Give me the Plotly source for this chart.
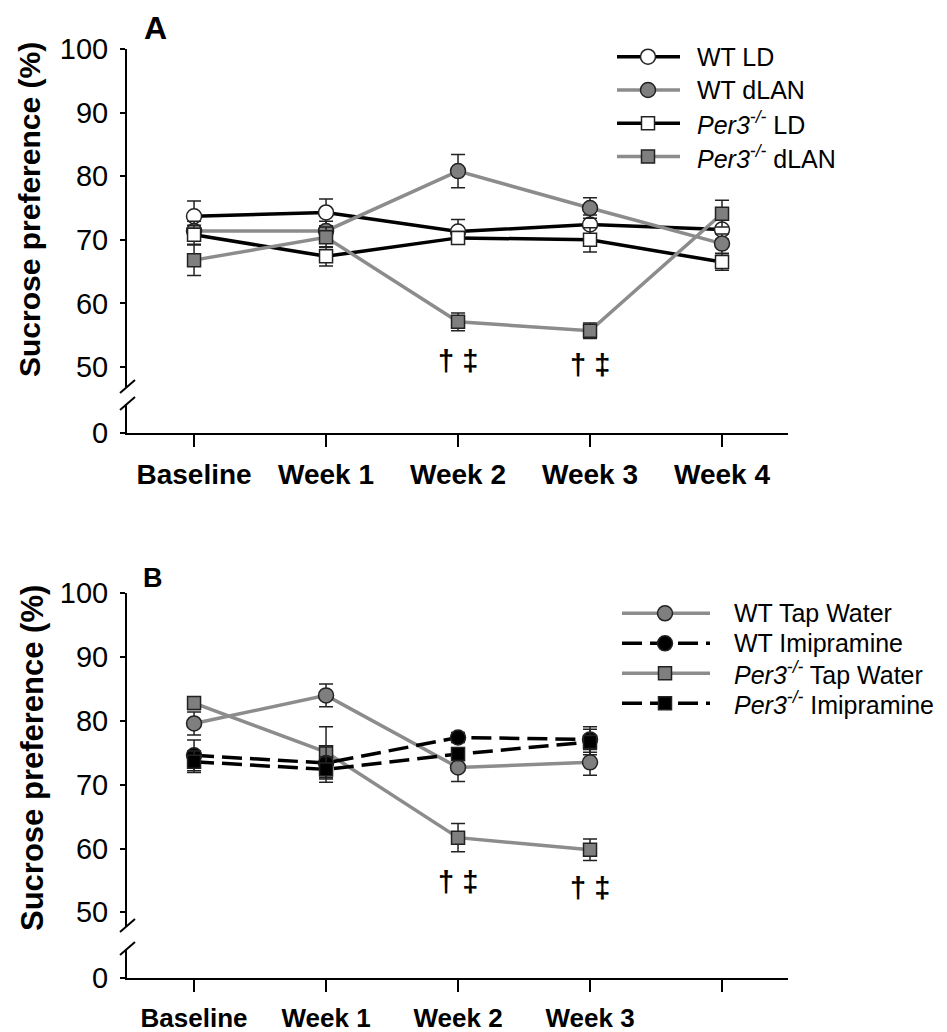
import plotly.graph_objects as go

# ---------------- data ----------------
weeks_A = ["Baseline", "Week 1", "Week 2", "Week 3", "Week 4"]
wt_ld = [73.7, 74.3, 71.3, 72.4, 71.6]
wt_ld_err = [2.4, 2.1, 1.9, 1.5, 1.5]
wt_dlan = [71.4, 71.4, 80.8, 75.0, 69.4]
wt_dlan_err = [1.5, 1.5, 2.6, 1.6, 1.5]
per3_ld = [70.8, 67.4, 70.3, 70.0, 66.5]
per3_ld_err = [1.5, 1.5, 1.0, 1.9, 1.3]
per3_dlan = [66.8, 70.4, 57.1, 55.7, 74.1]
per3_dlan_err = [2.4, 1.6, 1.4, 1.2, 2.1]

weeks_B = ["Baseline", "Week 1", "Week 2", "Week 3", ""]
wt_tap = [79.6, 84.0, 72.7, 73.5]
wt_tap_err = [1.8, 1.8, 2.2, 2.0]
wt_imi = [74.6, 73.4, 77.4, 77.1]
wt_imi_err = [2.4, 2.5, 0.8, 2.0]
per3_tap = [82.8, 75.1, 61.7, 59.8]
per3_tap_err = [1.0, 4.0, 2.2, 1.7]
per3_imi = [73.6, 72.4, 74.8, 76.7]
per3_imi_err = [1.7, 2.0, 1.0, 2.0]

y_ticks_upper = [50, 60, 70, 80, 90, 100]
y_ticks_lower = [0]

names_A = ["WT LD", "WT dLAN", "<i>Per3</i><sup><i>-/-</i></sup> LD", "<i>Per3</i><sup><i>-/-</i></sup> dLAN"]
names_B = ["WT Tap Water", "WT Imipramine", "<i>Per3</i><sup><i>-/-</i></sup> Tap Water",
           "<i>Per3</i><sup><i>-/-</i></sup> Imipramine"]
sig_text = "\u2020 \u2021"

# ---------------- layout helpers ----------------
OFF = 8                      # page body margin of the browser
W, H = 947 - OFF, 1032 - OFF
FONT = "Liberation Sans, Arial, sans-serif"
BLACK = "#000000"
GRAY_LINE = "#8c8c8c"
GRAY_FILL = "#7f7f7f"
EDGE = "#222222"


def px(x):
    return (x - OFF) / W


def py(y):
    return 1 - (y - OFF) / H


fig = go.Figure()


def add_series(xs, ys, err, xaxis, yaxis, line_color, dash, symbol, fill, size, name):
    fig.add_trace(go.Scatter(
        x=xs, y=ys, xaxis=xaxis, yaxis=yaxis, mode="lines+markers", name=name,
        line=dict(color=line_color, width=3.5, dash=dash),
        marker=dict(symbol=symbol, size=size, color=fill, line=dict(color=EDGE, width=1.5)),
        error_y=dict(type="data", array=err, visible=True, color=EDGE, thickness=1.5, width=7),
        showlegend=False, cliponaxis=False,
    ))


# empty traces so that the lower (broken) axis segments get their own subplots
fig.add_trace(go.Scatter(x=[None], y=[None], xaxis="x", yaxis="y2", showlegend=False, hoverinfo="skip"))
fig.add_trace(go.Scatter(x=[None], y=[None], xaxis="x2", yaxis="y4", showlegend=False, hoverinfo="skip"))

xa = list(range(len(weeks_A)))
add_series(xa, wt_ld, wt_ld_err, "x", "y", BLACK, "solid", "circle", "white", 15, names_A[0])
add_series(xa, wt_dlan, wt_dlan_err, "x", "y", GRAY_LINE, "solid", "circle", GRAY_FILL, 15, names_A[1])
add_series(xa, per3_ld, per3_ld_err, "x", "y", BLACK, "solid", "square", "white", 13, names_A[2])
add_series(xa, per3_dlan, per3_dlan_err, "x", "y", GRAY_LINE, "solid", "square", GRAY_FILL, 13, names_A[3])

xb = list(range(len(wt_tap)))
DASH = "20px,8px"
add_series(xb, wt_tap, wt_tap_err, "x2", "y3", GRAY_LINE, "solid", "circle", GRAY_FILL, 15, names_B[0])
add_series(xb, per3_tap, per3_tap_err, "x2", "y3", GRAY_LINE, "solid", "square", GRAY_FILL, 13, names_B[2])
add_series(xb, wt_imi, wt_imi_err, "x2", "y3", BLACK, DASH, "circle", BLACK, 15, names_B[1])
add_series(xb, per3_imi, per3_imi_err, "x2", "y3", BLACK, DASH, "square", BLACK, 13, names_B[3])

axis_common = dict(showline=True, linecolor=BLACK, linewidth=2, showgrid=False, zeroline=False,
                   ticks="outside", tickcolor=BLACK, fixedrange=True, automargin=False)

x_dom = [px(127), px(788)]
x_range = [-0.508, 4.5]


def xaxis_cfg(labels, anchor, size):
    return dict(axis_common, domain=x_dom, range=x_range, anchor=anchor,
                tickmode="array", tickvals=list(range(len(labels))), ticktext=labels,
                ticklen=12, tickwidth=2, ticklabelstandoff=3,
                tickfont=dict(family=FONT, size=size, color=BLACK, weight="bold"))


def yaxis_cfg(dom, rng, vals, anchor):
    return dict(axis_common, domain=dom, range=rng, anchor=anchor,
                tickmode="array", tickvals=vals, ticklen=5, tickwidth=2, ticklabelstandoff=6,
                tickfont=dict(family=FONT, size=29, color=BLACK))


# panel A: 100 at y=49, 6.36 px per unit, break at 387/404, x axis at 433
upA = 100 - (387 - 49) / 6.36
loA = (433 - 404) / 6.36
# panel B: 100 at y=593.3, 6.38 px per unit, break at 927/950, x axis at 978.3
upB = 100 - (927 - 593.3) / 6.38
loB = (978.3 - 950) / 6.38

fig.update_layout(
    template="none",
    width=W, height=H, margin=dict(l=0, r=0, t=0, b=0, pad=0, autoexpand=False),
    paper_bgcolor="white", plot_bgcolor="rgba(0,0,0,0)", showlegend=False,
    font=dict(family=FONT, color=BLACK),
    xaxis=xaxis_cfg(weeks_A, "y2", 28),
    yaxis=yaxis_cfg([py(387), py(49)], [upA, 100], y_ticks_upper, "x"),
    yaxis2=yaxis_cfg([py(433), py(404)], [0, loA], y_ticks_lower, "x"),
    xaxis2=xaxis_cfg(weeks_B, "y4", 26),
    yaxis3=yaxis_cfg([py(927), py(593.3)], [upB, 100], y_ticks_upper, "x2"),
    yaxis4=yaxis_cfg([py(978.3), py(950)], [0, loB], y_ticks_lower, "x2"),
)

shapes = []
annotations = []

# axis break marks
for (y1, y2) in [(393, 380), (410, 397), (932, 919), (955, 942)]:
    shapes.append(dict(type="line", xref="paper", yref="paper",
                       x0=px(120), y0=py(y1), x1=px(135), y1=py(y2),
                       line=dict(color=BLACK, width=2)))

# y-axis titles
for (xc, yc, fs) in [(29, 210, 30), (32, 758, 31)]:
    annotations.append(dict(text="<b>Sucrose preference (%)</b>", xref="paper", yref="paper",
                            x=px(xc), y=py(yc), textangle=-90, showarrow=False,
                            xanchor="center", yanchor="middle",
                            font=dict(family=FONT, size=fs, color=BLACK)))

# panel letters
annotations.append(dict(text="<b>A</b>", xref="paper", yref="paper", x=px(155), y=py(28),
                        xanchor="center", yanchor="middle",
                        showarrow=False, font=dict(family=FONT, size=32, color=BLACK)))
annotations.append(dict(text="<b>B</b>", xref="paper", yref="paper", x=px(153), y=py(578),
                        xanchor="center", yanchor="middle",
                        showarrow=False, font=dict(family=FONT, size=27, color=BLACK)))

# significance marks
for (xr, yr, xv, yv) in [("x", "y", 2, 50.9), ("x", "y", 3, 50.3),
                         ("x2", "y3", 2, 54.7), ("x2", "y3", 3, 53.8)]:
    annotations.append(dict(text="<b>" + sig_text + "</b>", xref=xr, yref=yr, x=xv, y=yv,
                            xanchor="center", yanchor="middle",
                            showarrow=False, font=dict(family=FONT, size=29, color=BLACK)))


# legends (drawn manually to get the long line samples)
def legend_item(x0, x1, xm, y, text, tx, line_color, dash, symbol, fill, msize, fsize):
    shapes.append(dict(type="line", xref="paper", yref="paper", x0=px(x0), x1=px(x1),
                       y0=py(y), y1=py(y), line=dict(color=line_color, width=3.5, dash=dash)))
    shapes.append(dict(type="circle" if symbol == "circle" else "rect",
                       xref="paper", yref="paper", xsizemode="pixel", ysizemode="pixel",
                       xanchor=px(xm), yanchor=py(y),
                       x0=-msize / 2, x1=msize / 2, y0=-msize / 2, y1=msize / 2,
                       fillcolor=fill, line=dict(color=EDGE, width=1.5)))
    annotations.append(dict(text=text, xref="paper", yref="paper", x=px(tx), y=py(y),
                            xanchor="left", yanchor="middle", showarrow=False,
                            font=dict(family=FONT, size=fsize, color=BLACK)))


legA = [(BLACK, "solid", "circle", "white", 15), (GRAY_LINE, "solid", "circle", GRAY_FILL, 15),
        (BLACK, "solid", "square", "white", 13), (GRAY_LINE, "solid", "square", GRAY_FILL, 13)]
for i, (st, name) in enumerate(zip(legA, names_A)):
    legend_item(617, 680, 648, 56.7 + 33.3 * i, name, 695, *st, 25)

legB = [(GRAY_LINE, "solid", "circle", GRAY_FILL, 15), (BLACK, "20px,8px", "circle", BLACK, 15),
        (GRAY_LINE, "solid", "square", GRAY_FILL, 13), (BLACK, "20px,8px", "square", BLACK, 13)]
for i, (st, name) in enumerate(zip(legB, names_B)):
    legend_item(622, 710, 665, 613.3 + 30 * i, name, 732, *st, 25)

fig.update_layout(shapes=shapes, annotations=annotations)
fig.write_html("out.html")
